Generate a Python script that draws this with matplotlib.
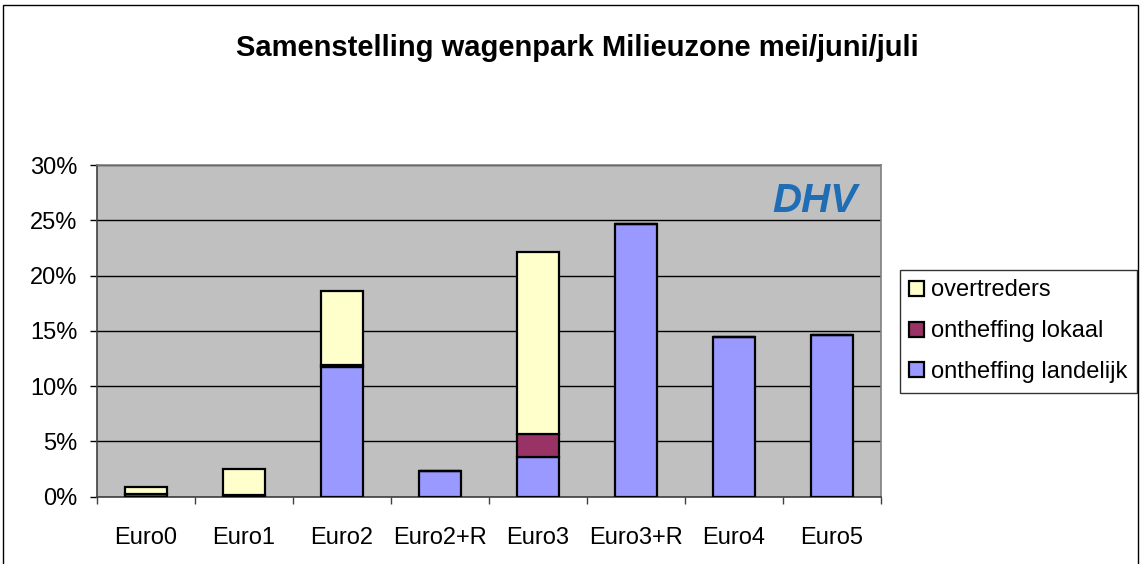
import matplotlib
matplotlib.use("Agg")
import matplotlib.pyplot as plt
import numpy as np
from matplotlib.patches import Rectangle
from matplotlib.ticker import FixedLocator, FuncFormatter

categories = ["Euro0", "Euro1", "Euro2", "Euro2+R", "Euro3", "Euro3+R", "Euro4", "Euro5"]
landelijk = [0.0, 0.0, 11.7, 2.3, 3.6, 24.7, 14.4, 14.6]
lokaal = [0.2, 0.1, 0.2, 0.0, 2.1, 0.0, 0.0, 0.0]
overtreders = [0.65, 2.4, 6.7, 0.0, 16.4, 0.0, 0.0, 0.0]
yticks = [0, 5, 10, 15, 20, 25, 30]

plt.rcParams['font.family'] = ['Liberation Sans', 'DejaVu Sans']

fig = plt.figure(figsize=(11.42, 5.64), dpi=100)
W, H = 1142, 564
ax = fig.add_axes([97 / W, 1 - 496.5 / H, (881 - 97) / W, (496.5 - 165) / H])
ax.set_facecolor("#C0C0C0")

x = np.arange(len(categories))
bw = 0.43
kw = dict(width=bw, edgecolor="black", linewidth=1.6, zorder=3)
ax.bar(x, landelijk, color="#9999FF", label="ontheffing landelijk", **kw)
ax.bar(x, lokaal, bottom=landelijk, color="#993366", label="ontheffing lokaal", **kw)
bottom2 = [a + b for a, b in zip(landelijk, lokaal)]
ax.bar(x, overtreders, bottom=bottom2, color="#FFFFCC", label="overtreders", **kw)

ax.set_xlim(-0.5, len(categories) - 0.5)
ax.set_ylim(0, 30)
ax.yaxis.set_major_locator(FixedLocator(yticks))
ax.yaxis.set_major_formatter(FuncFormatter(lambda v, p: f"{int(v)}%"))
ax.grid(axis="y", color="black", linewidth=1, zorder=1)
ax.set_axisbelow(True)

ax.set_xticks(x)
ax.set_xticklabels(categories, fontsize=17)
ax.tick_params(axis="x", length=0, pad=22)
ax.set_xticks(np.arange(-0.5, len(categories)), minor=True)
ax.tick_params(axis="x", which="minor", length=5, width=1, color="#404040")
ax.tick_params(axis="y", labelsize=17, length=5, width=1, color="black", pad=9)

for s in ["left", "bottom"]:
    ax.spines[s].set_color("#404040")
    ax.spines[s].set_linewidth(1.2)
for s in ["top", "right"]:
    ax.spines[s].set_color("#808080")
    ax.spines[s].set_linewidth(1.2)

# logo (stylised, slanted text)
ax.text(0.915, 0.89, "DHV", transform=ax.transAxes, fontsize=29, fontweight="bold",
        fontstyle="italic", color="#1E6DB5", ha="center", va="center", zorder=4)

fig.text(577 / W, 1 - 48 / H, "Samenstelling wagenpark Milieuzone mei/juni/juli",
         ha="center", va="center", fontsize=21, fontweight="bold")

handles, labels = ax.get_legend_handles_labels()
leg = fig.legend(handles[::-1], labels[::-1], loc="upper left",
                 bbox_to_anchor=(900 / W, 1 - 270 / H), fontsize=17,
                 frameon=True, fancybox=False, edgecolor="black",
                 handlelength=0.6, handleheight=0.6, handletextpad=0.3,
                 labelspacing=0.8, borderpad=0.4, borderaxespad=0)
leg.get_frame().set_linewidth(1)

fig.patches.append(Rectangle((3 / W, -0.1), (1138 - 3) / W, (1 - 5 / H) + 0.1,
                             transform=fig.transFigure, fill=False,
                             edgecolor="black", linewidth=1))

fig.savefig("out.png", dpi=100)
